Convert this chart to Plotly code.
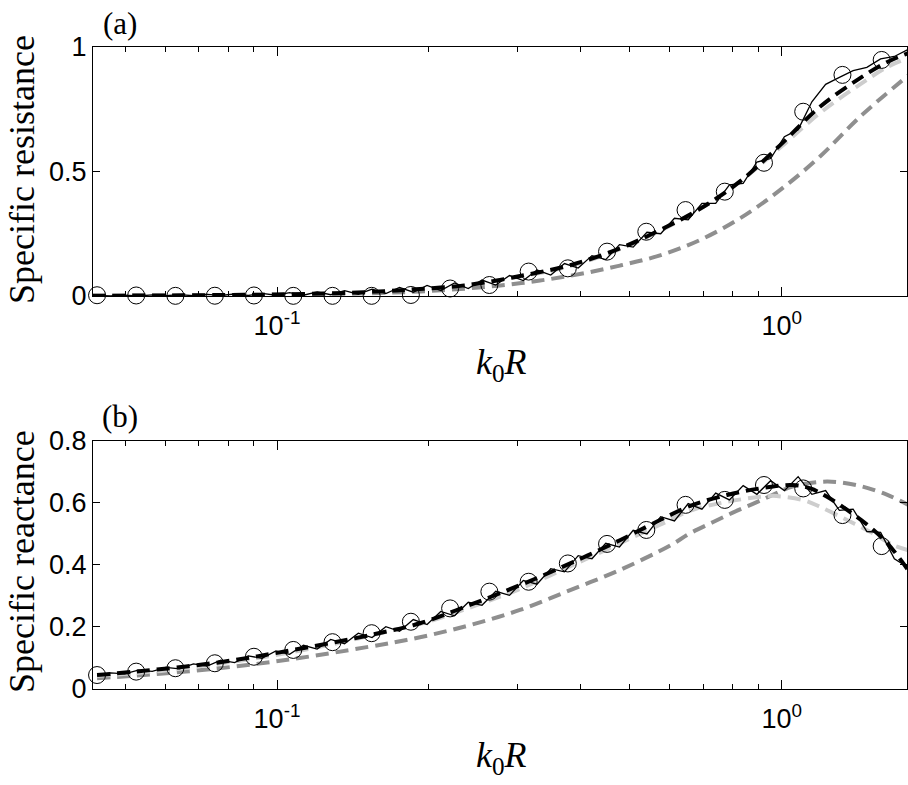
import plotly.graph_objects as go

# ---------------- data ----------------
circle_kR = [0.0440, 0.0526, 0.0629, 0.0753, 0.0900, 0.1077, 0.1288, 0.1540, 0.1842, 0.2203,
             0.2635, 0.3152, 0.3769, 0.4508, 0.5392, 0.6449, 0.7713, 0.9224, 1.1032, 1.3195, 1.578]
circle_res = [0.003, 0.002, 0.0005, 0.001, 0.002, 0.0005, 0.0005, 0.0005, 0.004, 0.030,
              0.044, 0.098, 0.111, 0.178, 0.258, 0.345, 0.419, 0.535, 0.740, 0.888, 0.948]
circle_rea = [0.045, 0.056, 0.067, 0.083, 0.104, 0.126, 0.151, 0.180, 0.217, 0.260,
              0.314, 0.346, 0.405, 0.468, 0.513, 0.594, 0.610, 0.658, 0.647, 0.561, 0.461]

meas_kR = [0.0440, 0.0468, 0.0499, 0.0531, 0.0566, 0.0602, 0.0641, 0.0683, 0.0727, 0.0774,
           0.0824, 0.0877, 0.0934, 0.0995, 0.1059, 0.1128, 0.1201, 0.1278, 0.1361, 0.1449,
           0.1543, 0.1643, 0.1749, 0.1862, 0.1983, 0.2111, 0.2248, 0.2393, 0.2548, 0.2713,
           0.2889, 0.3076, 0.3275, 0.3487, 0.3712, 0.3952, 0.4208, 0.4481, 0.4771, 0.5079,
           0.5408, 0.5758, 0.6131, 0.6527, 0.6950, 0.7400, 0.7878, 0.8388, 0.8931, 0.9509,
           1.0124, 1.0780, 1.1477, 1.2220, 1.3011, 1.3853, 1.4749, 1.5704, 1.6720, 1.7802]
meas_res = [0.002, 0.000, 0.003, 0.000, 0.004, 0.001, 0.005, 0.001, 0.006, 0.002,
            0.008, 0.002, 0.010, 0.003, 0.013, 0.003, 0.016, 0.005, 0.021, 0.007,
            0.027, 0.010, 0.034, 0.015, 0.042, 0.022, 0.052, 0.030, 0.064, 0.044,
            0.082, 0.062, 0.104, 0.084, 0.130, 0.112, 0.162, 0.146, 0.206, 0.196,
            0.256, 0.250, 0.312, 0.306, 0.372, 0.372, 0.446, 0.452, 0.538, 0.552,
            0.640, 0.668, 0.780, 0.850, 0.878, 0.905, 0.918, 0.952, 0.962, 0.990]
meas_rea = [0.043, 0.052, 0.049, 0.061, 0.057, 0.070, 0.065, 0.081, 0.074, 0.093,
            0.085, 0.107, 0.099, 0.123, 0.112, 0.141, 0.129, 0.160, 0.146, 0.180,
            0.166, 0.201, 0.186, 0.224, 0.208, 0.250, 0.236, 0.280, 0.270, 0.315,
            0.302, 0.350, 0.338, 0.388, 0.378, 0.430, 0.420, 0.470, 0.458, 0.512,
            0.500, 0.556, 0.542, 0.598, 0.580, 0.632, 0.610, 0.656, 0.628, 0.672,
            0.640, 0.685, 0.628, 0.640, 0.576, 0.580, 0.508, 0.505, 0.420, 0.392]

# theory curves, panel (a)
top_kR = [0.043, 0.06, 0.08, 0.1, 0.13, 0.16, 0.192, 0.241, 0.303, 0.381,
          0.478, 0.574, 0.689, 0.827, 0.992, 1.191, 1.43, 1.62, 1.78]
top_black = [0.001, 0.002, 0.004, 0.006, 0.011, 0.018, 0.028, 0.045, 0.080, 0.124,
             0.191, 0.265, 0.350, 0.460, 0.605, 0.760, 0.875, 0.940, 0.975]
top_light = [0.001, 0.002, 0.004, 0.006, 0.011, 0.018, 0.028, 0.046, 0.078, 0.120,
             0.188, 0.262, 0.350, 0.460, 0.595, 0.735, 0.850, 0.920, 0.955]
top_med_kR = [0.043, 0.06, 0.08, 0.1, 0.13, 0.16, 0.192, 0.2305, 0.277, 0.332,
              0.398, 0.478, 0.574, 0.689, 0.827, 0.992, 1.191, 1.43, 1.78]
top_med = [0.001, 0.002, 0.003, 0.005, 0.008, 0.012, 0.018, 0.028, 0.042, 0.062,
           0.088, 0.122, 0.163, 0.225, 0.312, 0.425, 0.560, 0.720, 0.885]

# theory curves, panel (b)
bot_black_kR = [0.044, 0.0522, 0.076, 0.1077, 0.155, 0.192, 0.241, 0.303, 0.381, 0.478,
                0.574, 0.667, 0.78, 0.906, 1.05, 1.14, 1.23, 1.35, 1.48, 1.62, 1.78]
bot_black = [0.045, 0.056, 0.085, 0.126, 0.176, 0.212, 0.271, 0.335, 0.405, 0.480,
             0.545, 0.594, 0.626, 0.647, 0.658, 0.647, 0.620, 0.577, 0.529, 0.470, 0.384]
bot_light_kR = [0.044, 0.06, 0.08, 0.1, 0.13, 0.16, 0.2, 0.25, 0.3, 0.38, 0.478,
                0.574, 0.667, 0.78, 0.906, 0.96, 1.1, 1.19, 1.347, 1.517, 1.66, 1.78]
bot_light = [0.042, 0.060, 0.086, 0.110, 0.146, 0.180, 0.218, 0.272, 0.320, 0.395, 0.470,
             0.530, 0.578, 0.604, 0.620, 0.623, 0.610, 0.588, 0.545, 0.502, 0.465, 0.448]
bot_med_kR = [0.044, 0.0522, 0.076, 0.1077, 0.1506, 0.192, 0.241, 0.303, 0.381, 0.478,
              0.6, 0.658, 0.73, 0.80, 0.877, 0.96, 1.05, 1.23, 1.43, 1.62, 1.78]
bot_med = [0.035, 0.043, 0.066, 0.097, 0.135, 0.167, 0.206, 0.255, 0.319, 0.384,
           0.462, 0.502, 0.538, 0.569, 0.597, 0.626, 0.653, 0.669, 0.655, 0.626, 0.594]

x_major_vals = [0.1, 1]
x_major_text = ["10<sup>-1</sup>", "10<sup>0</sup>"]
x_minor_vals = [0.05, 0.06, 0.07, 0.08, 0.09, 0.2, 0.3, 0.4, 0.5, 0.6, 0.7, 0.8, 0.9]
top_y_vals = [0, 0.5, 1]
top_y_text = ["0", "0.5", "1"]
bot_y_vals = [0, 0.2, 0.4, 0.6, 0.8]
bot_y_text = ["0", "0.2", "0.4", "0.6", "0.8"]

# ---------------- styles ----------------
MED = "#8f8f8f"
LIGHT = "#cdcdcd"
DASH = "13px,7px"
TICKFONT = dict(family="Liberation Sans", size=27, color="black")
SERIF = "Liberation Serif"

fig = go.Figure()


def add_panel(xa, ya, medx, medy, lightx, lighty, blackx, blacky, measy, circy):
    fig.add_trace(go.Scatter(x=medx, y=medy, mode="lines", xaxis=xa, yaxis=ya,
                             line=dict(color=MED, width=4, dash=DASH, shape="spline"),
                             showlegend=False, hoverinfo="skip"))
    fig.add_trace(go.Scatter(x=lightx, y=lighty, mode="lines", xaxis=xa, yaxis=ya,
                             line=dict(color=LIGHT, width=4, dash=DASH, shape="spline"),
                             showlegend=False, hoverinfo="skip"))
    fig.add_trace(go.Scatter(x=meas_kR, y=measy, mode="lines", xaxis=xa, yaxis=ya,
                             line=dict(color="black", width=1.3),
                             showlegend=False, hoverinfo="skip"))
    fig.add_trace(go.Scatter(x=blackx, y=blacky, mode="lines", xaxis=xa, yaxis=ya,
                             line=dict(color="black", width=4, dash=DASH, shape="spline"),
                             showlegend=False, hoverinfo="skip"))
    fig.add_trace(go.Scatter(x=circle_kR, y=circy, mode="markers", xaxis=xa, yaxis=ya,
                             marker=dict(symbol="circle-open", size=17, color="black",
                                         line=dict(width=1, color="black")),
                             cliponaxis=False, showlegend=False, hoverinfo="skip"))


add_panel("x", "y", top_med_kR, top_med, top_kR, top_light, top_kR, top_black, meas_res, circle_res)
add_panel("x2", "y2", bot_med_kR, bot_med, bot_light_kR, bot_light, bot_black_kR, bot_black, meas_rea, circle_rea)

xrange = [-1.3646, 0.2483]
xcommon = dict(type="log", range=xrange, tickmode="array", tickvals=x_major_vals,
               ticktext=x_major_text, ticks="inside", ticklen=9, tickwidth=1, tickcolor="black",
               showline=True, linecolor="black", linewidth=1, mirror="allticks",
               showgrid=False, zeroline=False, tickfont=TICKFONT, ticklabelstandoff=6,
               minor=dict(tickmode="array", tickvals=x_minor_vals, ticks="inside",
                          ticklen=5, tickwidth=1, tickcolor="black", showgrid=False))
ycommon = dict(ticks="inside", ticklen=7, tickwidth=1, tickcolor="black",
               showline=True, linecolor="black", linewidth=1, mirror="allticks",
               showgrid=False, zeroline=False, tickfont=TICKFONT, tickmode="array")

fig.update_layout(
    width=908, height=785,
    margin=dict(l=93, r=1, t=47, b=96),
    paper_bgcolor="white", plot_bgcolor="white",
    xaxis=dict(domain=[0, 1], anchor="y", **xcommon),
    yaxis=dict(domain=[0.6122, 1], anchor="x", range=[0, 1], tickvals=top_y_vals,
               ticktext=top_y_text, **ycommon),
    xaxis2=dict(domain=[0, 1], anchor="y2", **xcommon),
    yaxis2=dict(domain=[0, 0.3863], anchor="x2", range=[0, 0.8], tickvals=bot_y_vals,
                ticktext=bot_y_text, **ycommon),
)

PW = 814.0
PH = 642.0


def px(xp):
    return (xp - 93) / PW


def py(yp):
    return 1 - (yp - 47) / PH


annots = [
    dict(text="Specific resistance", x=px(22), y=py(170), textangle=-90, size=36),
    dict(text="Specific reactance", x=px(22), y=py(562), textangle=-90, size=36),
    dict(text="<i>k</i><sub>0</sub><i>R</i>", x=px(501), y=py(364), textangle=0, size=36),
    dict(text="<i>k</i><sub>0</sub><i>R</i>", x=px(501), y=py(757), textangle=0, size=36),
    dict(text="(a)", x=px(120), y=py(24), textangle=0, size=31),
    dict(text="(b)", x=px(120), y=py(417), textangle=0, size=31),
]
for a in annots:
    fig.add_annotation(text=a["text"], x=a["x"], y=a["y"], xref="paper", yref="paper",
                       xanchor="center", yanchor="middle", textangle=a["textangle"],
                       showarrow=False, font=dict(family=SERIF, size=a["size"], color="black"))

fig.write_html("out.html", config={"displayModeBar": False},
               post_script="document.body.style.margin='0';document.body.style.overflow='hidden';")
